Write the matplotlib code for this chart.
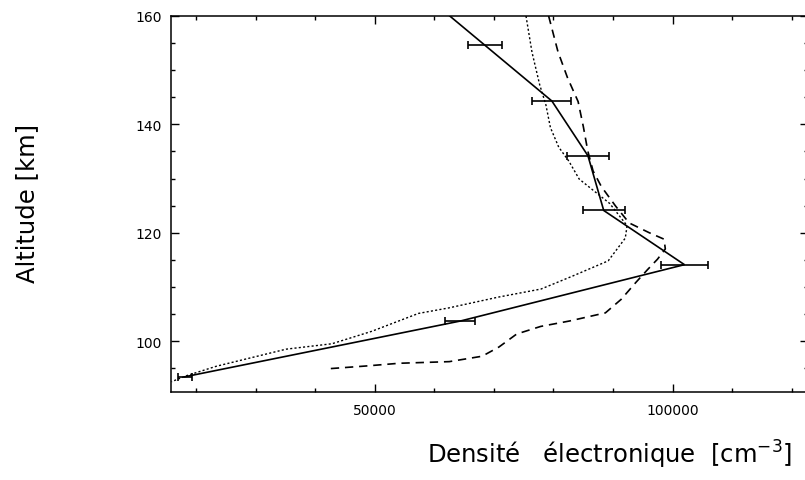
import matplotlib
matplotlib.use("Agg")
import matplotlib.pyplot as plt
from matplotlib.ticker import MultipleLocator

# Measured electron-density profile (with uncertainties)
alt_obs = [154.6, 144.3, 134.2, 124.1, 114.1, 103.7, 93.4]
ne_obs = [68500, 79750, 85800, 88450, 102000, 64400, 18100]
ne_err = [2850, 3270, 3520, 3520, 3950, 2520, 1170]

# Profile line continues up to the top of the frame
line_alt = [160] + alt_obs
line_ne = [62600] + ne_obs

# Model profile 1 (dotted)
dot_ne = [75400, 76410, 77700, 78740, 79500, 80890, 82600, 84330, 86710, 89450,
          92370, 92070, 89200, 83020, 77920, 70710, 62370, 57350, 49510, 42820,
          35120, 23420, 18400, 15900]
dot_alt = [160, 153.3, 147.3, 143.6, 139.4, 135.8, 133.2, 129.9, 127.8, 125.4,
           121.3, 119.0, 114.8, 111.9, 109.6, 108.1, 106.1, 105.1, 101.8, 99.5,
           98.5, 95.35, 93.6, 92.5]

# Model profile 2 (dashed)
dash_ne = [79200, 80770, 82370, 84150, 85040, 85770, 86660, 88060, 90450, 92720,
           96080, 98580, 98790, 97470, 95820, 93830, 91380, 88730, 82700, 77870,
           73840, 70860, 68040, 62520, 54130, 48590, 42380]
dash_alt = [160, 153.4, 148.6, 144.2, 139.5, 135.1, 131.4, 128.5, 124.9, 121.8,
            120.0, 118.8, 117.0, 115.1, 113.2, 110.8, 107.7, 105.2, 103.7, 102.7,
            101.3, 98.9, 97.2, 96.2, 95.9, 95.4, 94.9]

x_ticks = [50000, 100000]
y_ticks = [100, 120, 140, 160]

plt.rcParams['font.family'] = ['DejaVu Sans']

fig = plt.figure(figsize=(8.05, 4.81), dpi=100)
ax = fig.add_axes([0.2124, 0.183, 0.791, 0.7817])

ax.plot(line_ne, line_alt, color='black', lw=1.2, solid_joinstyle='miter')
ax.errorbar(ne_obs, alt_obs, xerr=ne_err, fmt='none', ecolor='black',
            elinewidth=1.2, capsize=3, capthick=1.2)
ax.plot(dot_ne, dot_alt, color='black', lw=1.0, dashes=(1.5, 1.6))
ax.plot(dash_ne, dash_alt, color='black', lw=1.2, dashes=(5, 3.5))

ax.set_xlim(15800, 122700)
ax.set_ylim(90.6, 160)
ax.set_xticks(x_ticks)
ax.set_xticklabels([str(v) for v in x_ticks])
ax.set_yticks(y_ticks)
ax.set_yticklabels([str(v) for v in y_ticks])
ax.xaxis.set_minor_locator(MultipleLocator(10000))
ax.yaxis.set_minor_locator(MultipleLocator(5))

ax.tick_params(which='both', direction='in', top=True, right=True, width=1.0)
ax.tick_params(which='major', length=5.5)
ax.tick_params(which='minor', length=3)
ax.tick_params(axis='x', which='major', pad=8, labelsize=10)
ax.tick_params(axis='y', which='major', pad=6.5, labelsize=10)
for s in ax.spines.values():
    s.set_linewidth(1.1)

fig.text(610 / 805, 0.054, "Densité   électronique  [cm$^{-3}$]",
         fontsize=17.5, ha='center', va='center')
fig.text(27 / 805, 0.578, "Altitude [km]", fontsize=17.5, rotation=90,
         ha='center', va='center')

fig.savefig("out.png", dpi=100)
